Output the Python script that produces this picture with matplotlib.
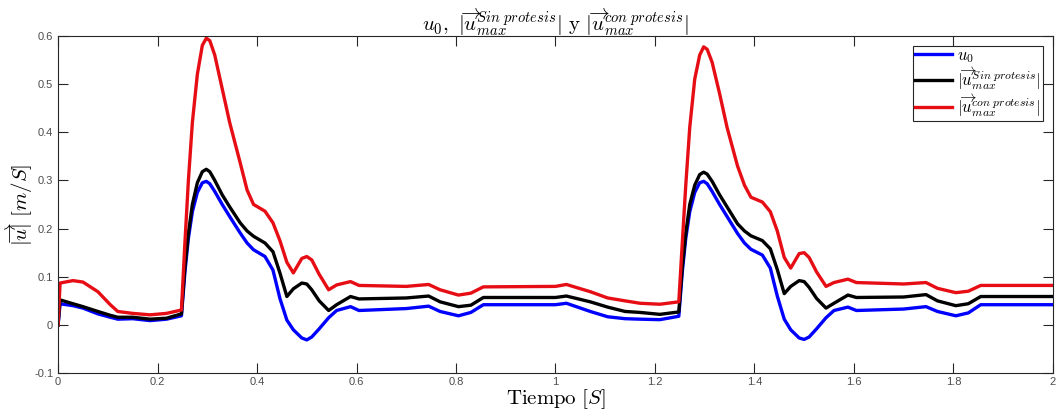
import matplotlib

matplotlib.use("Agg")
import matplotlib.pyplot as plt

# time axis [s]
t = [0, 0.004, 0.03, 0.05, 0.08, 0.105, 0.12, 0.15, 0.185, 0.218, 0.248,
     0.255, 0.262, 0.27, 0.28, 0.29, 0.298, 0.305, 0.315, 0.33, 0.345,
     0.366, 0.38, 0.393, 0.416, 0.432, 0.446, 0.46, 0.473, 0.49, 0.5,
     0.51, 0.525, 0.544, 0.56, 0.588, 0.605, 0.7, 0.745, 0.768, 0.805,
     0.83, 0.855, 1.0, 1.022, 1.07, 1.105, 1.14, 1.17, 1.21, 1.248,
     1.255, 1.262, 1.27, 1.28, 1.29, 1.298, 1.305, 1.315, 1.33, 1.345,
     1.366, 1.38, 1.393, 1.416, 1.432, 1.446, 1.46, 1.473, 1.49, 1.5,
     1.51, 1.525, 1.544, 1.56, 1.588, 1.605, 1.7, 1.745, 1.768, 1.805,
     1.83, 1.855, 2.0]

u0 = [0, 0.044, 0.04, 0.035, 0.023, 0.016, 0.012, 0.013, 0.009, 0.012, 0.019,
      0.11, 0.18, 0.235, 0.275, 0.295, 0.298, 0.293, 0.277, 0.25, 0.225,
      0.191, 0.17, 0.156, 0.142, 0.114, 0.055, 0.01, -0.01, -0.027, -0.031,
      -0.025, -0.008, 0.015, 0.03, 0.038, 0.03, 0.034, 0.039, 0.028, 0.019,
      0.026, 0.042, 0.042, 0.045, 0.028, 0.017, 0.013, 0.012, 0.011, 0.018,
      0.11, 0.18, 0.235, 0.275, 0.295, 0.298, 0.293, 0.277, 0.25, 0.225,
      0.19, 0.17, 0.157, 0.145, 0.118, 0.06, 0.012, -0.01, -0.027, -0.03,
      -0.025, -0.008, 0.015, 0.03, 0.037, 0.03, 0.033, 0.038, 0.028, 0.019,
      0.025, 0.042, 0.042]

u_sin = [0, 0.052, 0.044, 0.038, 0.028, 0.02, 0.016, 0.016, 0.012, 0.014, 0.023,
         0.12, 0.19, 0.25, 0.295, 0.318, 0.323, 0.318, 0.3, 0.27, 0.245,
         0.212, 0.195, 0.184, 0.17, 0.152, 0.108, 0.059, 0.075, 0.087, 0.085,
         0.073, 0.05, 0.03, 0.042, 0.059, 0.054, 0.056, 0.06, 0.048, 0.038,
         0.041, 0.057, 0.057, 0.06, 0.048, 0.037, 0.028, 0.026, 0.022, 0.027,
         0.12, 0.19, 0.25, 0.29, 0.312, 0.317, 0.313, 0.298, 0.27, 0.245,
         0.21, 0.195, 0.185, 0.175, 0.158, 0.115, 0.065, 0.08, 0.092, 0.09,
         0.078, 0.055, 0.035, 0.045, 0.062, 0.057, 0.058, 0.063, 0.05, 0.04,
         0.044, 0.059, 0.059]

u_con = [0, 0.087, 0.092, 0.089, 0.069, 0.042, 0.028, 0.024, 0.021, 0.024, 0.031,
         0.17, 0.30, 0.42, 0.52, 0.58, 0.595, 0.59, 0.56, 0.49, 0.42,
         0.337, 0.28, 0.25, 0.236, 0.212, 0.175, 0.13, 0.108, 0.138, 0.142,
         0.135, 0.105, 0.073, 0.083, 0.09, 0.082, 0.08, 0.084, 0.073, 0.062,
         0.066, 0.079, 0.08, 0.084, 0.069, 0.056, 0.05, 0.045, 0.043, 0.048,
         0.17, 0.29, 0.41, 0.51, 0.56, 0.577, 0.572, 0.545, 0.48, 0.41,
         0.33, 0.29, 0.265, 0.255, 0.235, 0.195, 0.14, 0.118, 0.148, 0.15,
         0.14, 0.11, 0.08, 0.088, 0.095, 0.088, 0.085, 0.088, 0.076, 0.067,
         0.07, 0.082, 0.082]

labels = [r"$u_0$",
          r"$|\overrightarrow{u}_{max}^{Sin\ protesis}|$",
          r"$|\overrightarrow{u}_{max}^{con\ protesis}|$"]
x_ticks = [0, 0.2, 0.4, 0.6, 0.8, 1, 1.2, 1.4, 1.6, 1.8, 2]
y_ticks = [-0.1, 0, 0.1, 0.2, 0.3, 0.4, 0.5, 0.6]

plt.rcParams["mathtext.fontset"] = "cm"
plt.rcParams["font.family"] = "Liberation Sans"

fig = plt.figure(figsize=(10.56, 4.16), dpi=100)
ax = fig.add_axes([0.055, 0.103, 0.942, 0.811])

ax.plot(t, u0, color=(0, 0, 1), linewidth=2.4, label=labels[0])
ax.plot(t, u_sin, color="black", linewidth=2.4, label=labels[1])
ax.plot(t, u_con, color=(0.9, 0.05, 0.08), linewidth=2.4, label=labels[2])

ax.set_xlim(0, 2)
ax.set_ylim(-0.1, 0.6)
ax.set_xticks(x_ticks)
ax.set_xticklabels([f"{v:g}" for v in x_ticks])
ax.set_yticks(y_ticks)
ax.set_yticklabels([f"{v:g}" for v in y_ticks])

for s in ax.spines.values():
    s.set_color("#262626")
    s.set_linewidth(0.8)
ax.tick_params(axis="both", direction="in", length=7, width=0.8,
               colors="#262626", labelcolor="#4d4d4d", labelsize=8,
               top=True, right=True)
ax.tick_params(axis="x", pad=3)

ax.set_xlabel(r"$\mathrm{Tiempo}\ [S]$", fontsize=15, labelpad=0)
ax.set_ylabel(r"$|\overrightarrow{u}|\ [m/S]$", fontsize=15, labelpad=-1)
ax.set_title(r"$u_0,\ |\overrightarrow{u}_{max}^{Sin\ protesis}|\ \mathrm{y}\ "
             r"|\overrightarrow{u}_{max}^{con\ protesis}|$", fontsize=15, pad=4)

leg = ax.legend(loc="upper right", fontsize=12, handlelength=2.2,
                borderpad=0.15, labelspacing=0.0, handletextpad=0.3,
                fancybox=False, framealpha=1, borderaxespad=0.6)
leg.get_frame().set_edgecolor("#262626")
leg.get_frame().set_linewidth(0.8)

fig.savefig("out.png", dpi=100)
